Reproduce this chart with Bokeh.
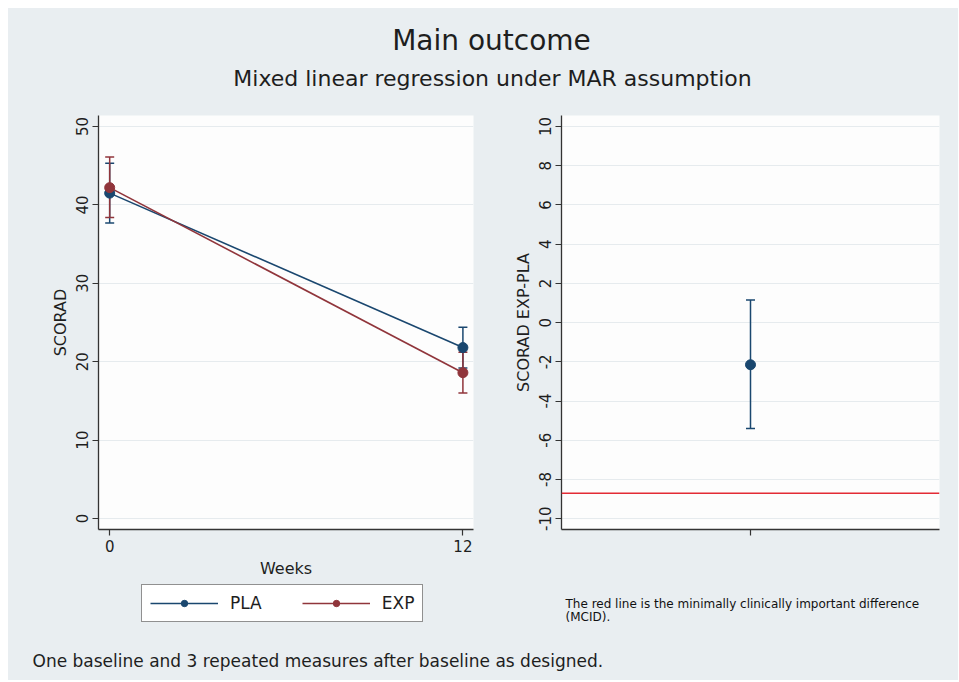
from bokeh.plotting import figure
from bokeh.models import (Range1d, Whisker, TeeHead, ColumnDataSource, Legend,
                          LegendItem, FixedTicker, Span)
from bokeh.layouts import column, row
from bokeh.embed import file_html
from bokeh.resources import INLINE
from bokeh.core.properties import value

# ---------------- data ----------------
title_text = "Main outcome"
subtitle_text = "Mixed linear regression under MAR assumption"
footer_text = "One baseline and 3 repeated measures after baseline as designed."
note_lines = ["The red line is the minimally clinically important difference", "(MCID)."]
series_names = ["PLA", "EXP"]

weeks = [0, 12]
pla_mean = [41.5, 21.8]
pla_lower = [37.7, 19.2]
pla_upper = [45.3, 24.4]
exp_mean = [42.2, 18.6]
exp_lower = [38.4, 16.0]
exp_upper = [46.1, 21.2]

diff_x = [0]
diff_mean = [-2.15]
diff_lower = [-5.4]
diff_upper = [1.15]
mcid = -8.7

left_yticks = [0, 10, 20, 30, 40, 50]
left_xticks = [0, 12]
right_yticks = [-10, -8, -6, -4, -2, 0, 2, 4, 6, 8, 10]

# ---------------- style ----------------
FONT = "DejaVu Sans"
BG = "#e9eef1"
PLOT_BG = "#fdfdfd"
GRID = "#e6ebee"
BLUE = "#1a476f"
RED = "#90353b"
MCID_RED = "#e32b35"
TXT = "#1e1e1e"
AXC = "#333333"
W = 950
NAN = float("nan")


def style_axes(p):
    for ax in p.axis:
        ax.axis_line_color = AXC
        ax.axis_line_width = 1.3
        ax.major_tick_line_color = AXC
        ax.major_tick_line_width = 1.2
        ax.major_tick_out = 6
        ax.major_tick_in = 0
        ax.minor_tick_line_color = None
        ax.major_label_standoff = 4
        ax.axis_label_standoff = 4
        ax.major_label_text_font = FONT
        ax.major_label_text_font_size = "15px"
        ax.major_label_text_color = TXT
        ax.axis_label_text_font = FONT
        ax.axis_label_text_font_size = "16px"
        ax.axis_label_text_font_style = "normal"
        ax.axis_label_text_color = TXT
    p.xgrid.visible = False
    p.ygrid.grid_line_color = GRID
    p.ygrid.grid_line_width = 1.2
    p.outline_line_color = None
    p.background_fill_color = PLOT_BG
    p.border_fill_color = BG


def blank(height):
    f = figure(width=W, height=height, x_range=Range1d(0, W), y_range=Range1d(height, 0),
               toolbar_location=None, output_backend="svg", min_border=0,
               x_axis_location=None, y_axis_location=None)
    f.grid.visible = False
    f.outline_line_color = None
    f.background_fill_color = BG
    f.border_fill_color = BG
    return f


# ---------------- header ----------------
hdr = blank(100)
hdr.text(x=[483], y=[32], text=[title_text], text_align="center", text_baseline="middle",
         text_font=value(FONT), text_font_size="28px", text_color=TXT)
hdr.text(x=[484], y=[70], text=[subtitle_text], text_align="center", text_baseline="middle",
         text_font=value(FONT), text_font_size="22px", text_color=TXT)

# ---------------- left panel ----------------
left = figure(width=494, height=472, x_range=Range1d(-0.38, 12.36), y_range=Range1d(-1.4, 51.4),
              toolbar_location=None, output_backend="svg",
              min_border_left=90, min_border_right=29, min_border_top=7, min_border_bottom=48)
left.xaxis.ticker = FixedTicker(ticks=left_xticks)
left.yaxis.ticker = FixedTicker(ticks=left_yticks)
left.xaxis.axis_label = "Weeks"
left.yaxis.axis_label = "SCORAD"
left.yaxis.major_label_orientation = "vertical"
style_axes(left)

pla_src = ColumnDataSource(dict(x=weeks, y=pla_mean, lo=pla_lower, hi=pla_upper))
exp_src = ColumnDataSource(dict(x=weeks, y=exp_mean, lo=exp_lower, hi=exp_upper))

for src, col in ((pla_src, BLUE), (exp_src, RED)):
    left.add_layout(Whisker(base="x", lower="lo", upper="hi", source=src,
                            line_color=col, line_width=1.5,
                            upper_head=TeeHead(size=9, line_color=col, line_width=1.5),
                            lower_head=TeeHead(size=9, line_color=col, line_width=1.5)))

left.line("x", "y", source=pla_src, line_color=BLUE, line_width=1.6)
left.line("x", "y", source=exp_src, line_color=RED, line_width=1.6)
left.scatter("x", "y", source=pla_src, size=10, fill_color=BLUE, line_color=BLUE)
left.scatter("x", "y", source=exp_src, size=10, fill_color=RED, line_color=RED)

# ---------------- right panel ----------------
right = figure(width=456, height=472, x_range=Range1d(-1, 1), y_range=Range1d(-10.55, 10.56),
               toolbar_location=None, output_backend="svg",
               min_border_left=59, min_border_right=19, min_border_top=7, min_border_bottom=48)
right.xaxis.ticker = FixedTicker(ticks=diff_x)
right.xaxis.major_label_overrides = {0: ""}
right.yaxis.ticker = FixedTicker(ticks=right_yticks)
right.yaxis.major_label_overrides = {t: str(t) for t in right_yticks}
right.yaxis.axis_label = "SCORAD EXP-PLA"
right.yaxis.major_label_orientation = "vertical"
style_axes(right)

diff_src = ColumnDataSource(dict(x=diff_x, y=diff_mean, lo=diff_lower, hi=diff_upper))
right.add_layout(Span(location=mcid, dimension="width", line_color=MCID_RED, line_width=1.6))
right.add_layout(Whisker(base="x", lower="lo", upper="hi", source=diff_src,
                         line_color=BLUE, line_width=1.5,
                         upper_head=TeeHead(size=9, line_color=BLUE, line_width=1.5),
                         lower_head=TeeHead(size=9, line_color=BLUE, line_width=1.5)))
right.scatter("x", "y", source=diff_src, size=10, fill_color=BLUE, line_color=BLUE)

# ---------------- legend + note strip ----------------
leg = blank(58)
key_pla = ColumnDataSource(dict(x=[NAN], y=[NAN]))
key_exp = ColumnDataSource(dict(x=[NAN], y=[NAN]))
g1 = leg.line("x", "y", source=key_pla, line_color=BLUE, line_width=1.6)
m1 = leg.scatter("x", "y", source=key_pla, size=9, fill_color=BLUE, line_color=BLUE)
g2 = leg.line("x", "y", source=key_exp, line_color=RED, line_width=1.6)
m2 = leg.scatter("x", "y", source=key_exp, size=9, fill_color=RED, line_color=RED)
legend = Legend(items=[LegendItem(label=series_names[0], renderers=[g1, m1]),
                       LegendItem(label=series_names[1], renderers=[g2, m2])],
                orientation="horizontal", location=(133, 16),
                glyph_width=68, glyph_height=16, label_standoff=12, spacing=40,
                padding=8, margin=0,
                border_line_color="#222222", border_line_width=1.5,
                background_fill_color="white", background_fill_alpha=1.0,
                label_text_font=FONT, label_text_font_size="17px", label_text_color=TXT)
leg.add_layout(legend, "center")
leg.text(x=[557, 557], y=[23, 36], text=note_lines, text_align="left", text_baseline="middle",
         text_font=value(FONT), text_font_size="12px", text_color="#111111")

# ---------------- footer ----------------
ftr = blank(42)
ftr.text(x=[24], y=[22], text=[footer_text], text_align="left", text_baseline="middle",
         text_font=value(FONT), text_font_size="17px", text_color=TXT)

layout = column(hdr, row(left, right, styles={"background-color": BG}), leg, ftr,
                margin=(8, 0, 0, 8), styles={"background-color": BG})
open("out.html", "w").write(file_html(layout, INLINE))
